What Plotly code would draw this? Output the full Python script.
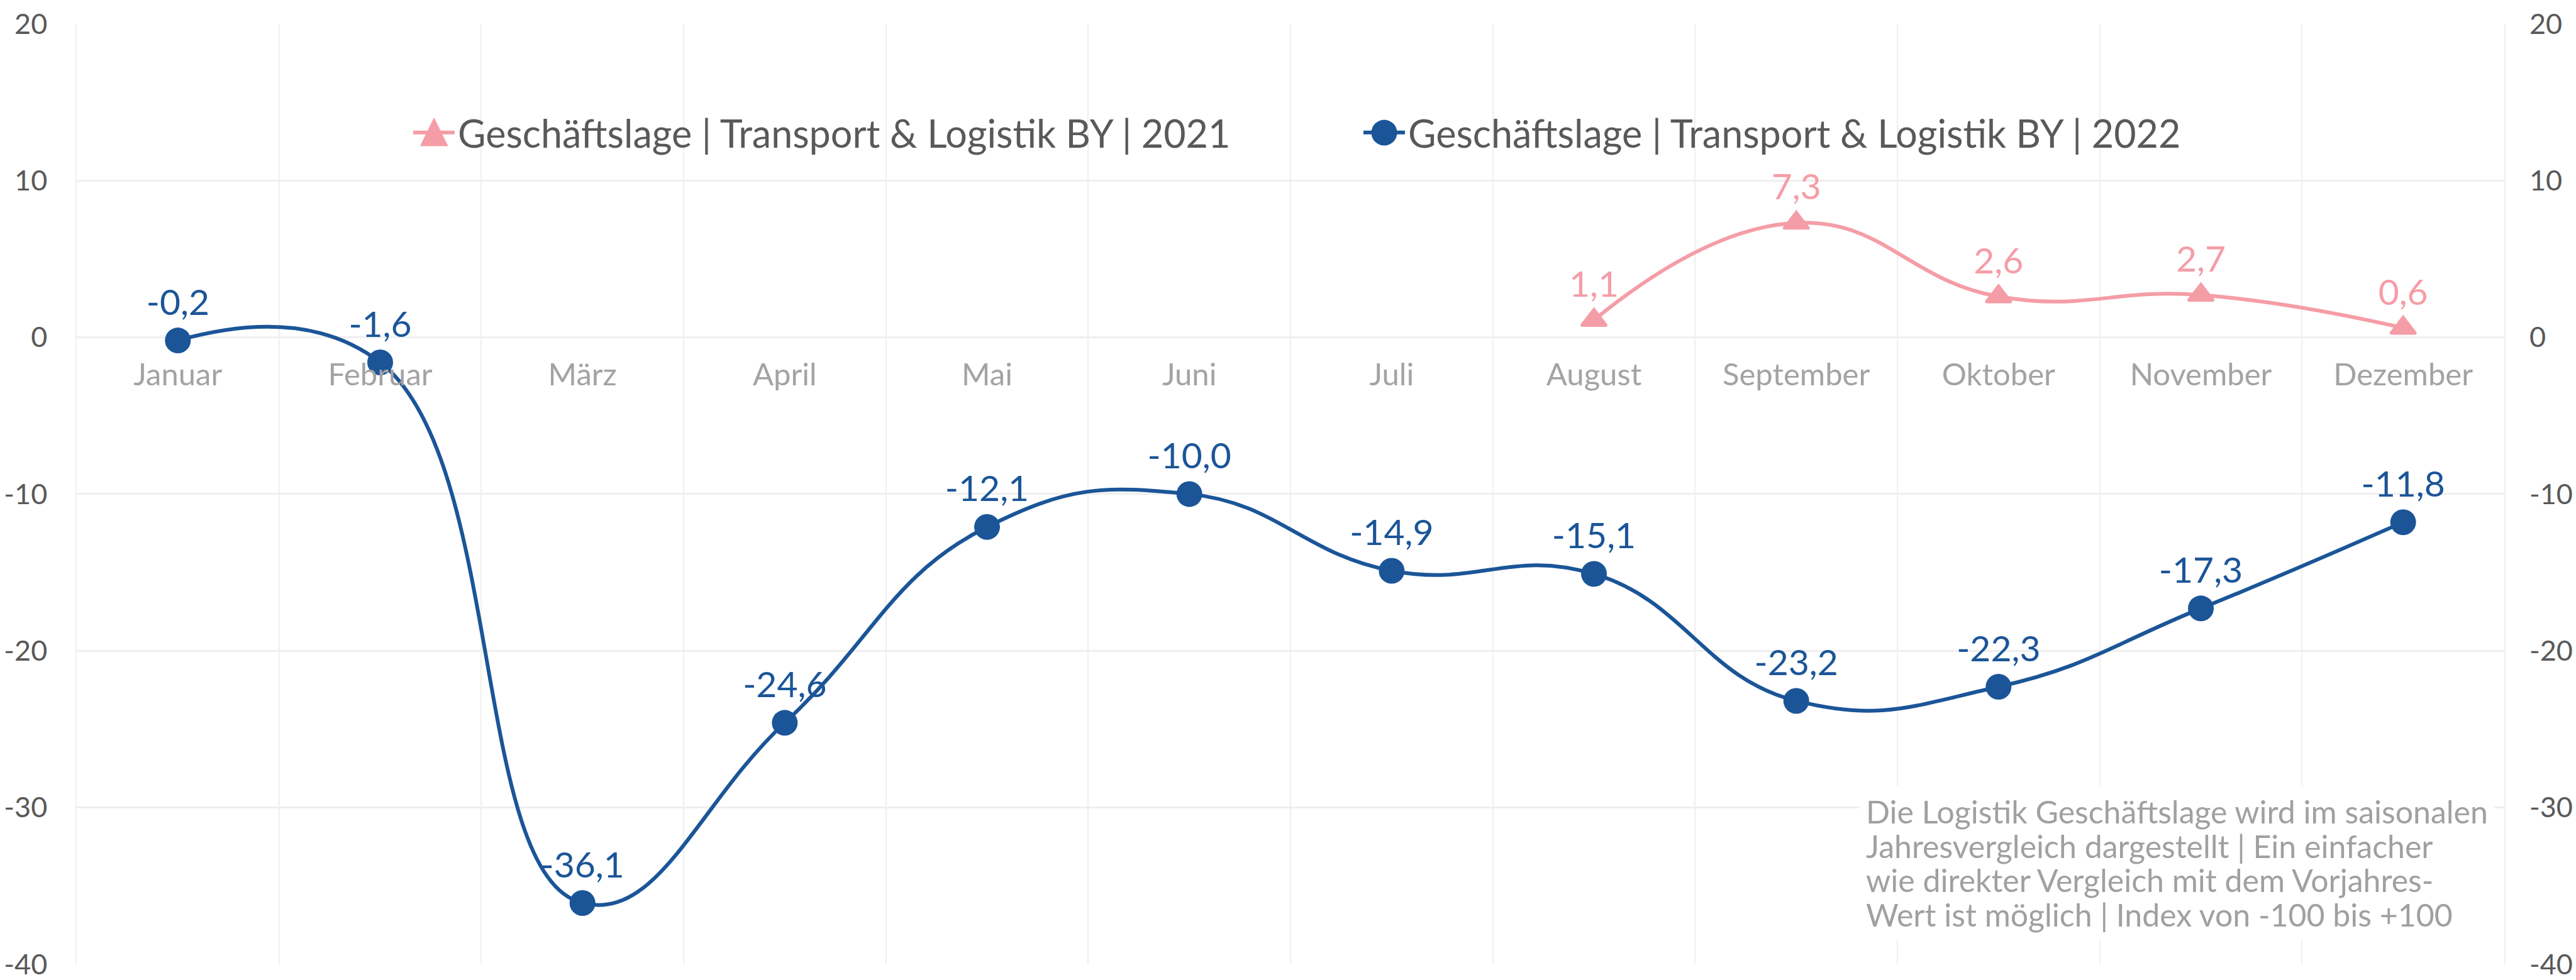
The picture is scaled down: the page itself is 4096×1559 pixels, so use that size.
import plotly.graph_objects as go

months = ["Januar", "Februar", "März", "April", "Mai", "Juni", "Juli",
          "August", "September", "Oktober", "November", "Dezember"]
values_2021 = [None, None, None, None, None, None, None, 1.1, 7.3, 2.6, 2.7, 0.6]
values_2022 = [-0.2, -1.6, -36.1, -24.6, -12.1, -10.0, -14.9, -15.1, -23.2, -22.3, -17.3, -11.8]
y_ticks = [-40, -30, -20, -10, 0, 10, 20]
y_tick_labels = ["-40", "-30", "-20", "-10", "0", "10", "20"]
name_2021 = "Geschäftslage | Transport & Logistik BY | 2021"
name_2022 = "Geschäftslage | Transport & Logistik BY | 2022"
note_lines = ["Die Logistik Geschäftslage wird im saisonalen",
              "Jahresvergleich dargestellt | Ein einfacher",
              "wie direkter Vergleich mit dem Vorjahres-",
              "Wert ist möglich | Index von -100 bis +100"]

BLUE = "#1B5598"
PINK = "#F59DA6"
GRID = "#EFEFEF"
FONT = "Lato"

def fmt(v):
    return "" if v is None else f"{v:.1f}".replace(".", ",")

fig = go.Figure()
fig.add_trace(go.Scatter(
    x=months, y=values_2021, name=name_2021, mode="lines+markers+text",
    line=dict(color=PINK, width=6, shape="spline", smoothing=1.3),
    marker=dict(symbol="triangle-up", size=35, color=PINK, line=dict(color=PINK, width=4)),
    text=[fmt(v) for v in values_2021], textposition="top center",
    textfont=dict(family=FONT, size=57, color=PINK),
    cliponaxis=False,
))
fig.add_trace(go.Scatter(
    x=months, y=values_2022, name=name_2022, mode="lines+markers+text",
    line=dict(color=BLUE, width=6, shape="spline", smoothing=1.3),
    marker=dict(symbol="circle", size=41, color=BLUE),
    text=[fmt(v) for v in values_2022], textposition="top center",
    textfont=dict(family=FONT, size=57, color=BLUE),
    cliponaxis=False,
))
# invisible trace to carry the right axis
fig.add_trace(go.Scatter(x=months, y=values_2022, yaxis="y2", mode="lines",
                         line=dict(width=0), showlegend=False, hoverinfo="skip"))

note = "<br>".join(f'<span style="font-size:50px">{l}</span>' for l in note_lines)

# enlarged legend symbols (legend draws its own at max 16px)
legend_shapes = [
    dict(type="path", xref="paper", yref="paper", xsizemode="pixel", ysizemode="pixel",
         xanchor=0.1472, yanchor=0.8843, path="M-20,-20 L20,-20 L0,21 Z",
         fillcolor=PINK, line=dict(color=PINK, width=3), layer="above"),
    dict(type="circle", xref="paper", yref="paper", xsizemode="pixel", ysizemode="pixel",
         xanchor=0.5386, yanchor=0.8843, x0=-20.5, x1=20.5, y0=-20.5, y1=20.5,
         fillcolor=BLUE, line=dict(color=BLUE, width=0), layer="above"),
]

axis_font = dict(family=FONT, size=45, color="#595959")

fig.update_layout(
    width=4096, height=1559,
    margin=dict(l=122, r=114, t=38, b=25),
    paper_bgcolor="white", plot_bgcolor="white",
    font=dict(family=FONT, color="#595959"),
    showlegend=True,
    legend=dict(orientation="h", x=0.1373, xanchor="left", y=0.8843, yanchor="middle",
                font=dict(family=FONT, size=61, color="#595959"),
                itemwidth=66, entrywidth=1430, entrywidthmode="pixels",
                bgcolor="rgba(0,0,0,0)"),
    xaxis=dict(type="category", categoryorder="array", categoryarray=months,
               range=[-0.5, 11.5], anchor="free", position=2/3, automargin=False,
               showline=False, ticks="", tickson="boundaries",
               showgrid=True, gridcolor=GRID, gridwidth=1.5,
               tickfont=dict(family=FONT, size=49, color="#A3A3A3"),
               ticklabelstandoff=26, zeroline=False),
    yaxis=dict(range=[-40.01, 20], tickvals=y_ticks, ticktext=y_tick_labels,
               showgrid=True, gridcolor=GRID,
               gridwidth=3, zeroline=False, showline=True, linecolor=GRID, linewidth=1.5,
               mirror=True, ticks="", tickfont=axis_font,
               ticklabelstandoff=36, ticklabeloverflow="allow", automargin=False),
    yaxis2=dict(range=[-40.01, 20], tickvals=y_ticks, ticktext=y_tick_labels,
                overlaying="y", side="right",
                showgrid=False, zeroline=False, showline=False, ticks="",
                tickfont=axis_font,
                ticklabelstandoff=39, ticklabeloverflow="allow", automargin=False),
    shapes=legend_shapes,
    annotations=[dict(text=note, xref="paper", yref="y", x=0.7343, y=-28.6,
                      xanchor="left", yanchor="top", align="left", showarrow=False,
                      bgcolor="white", borderpad=10,
                      font=dict(family=FONT, size=42, color="#A0A0A0"))],
)

fig.write_html("out.html", config={"displayModeBar": False},
               post_script="document.body.style.margin='0px';")
